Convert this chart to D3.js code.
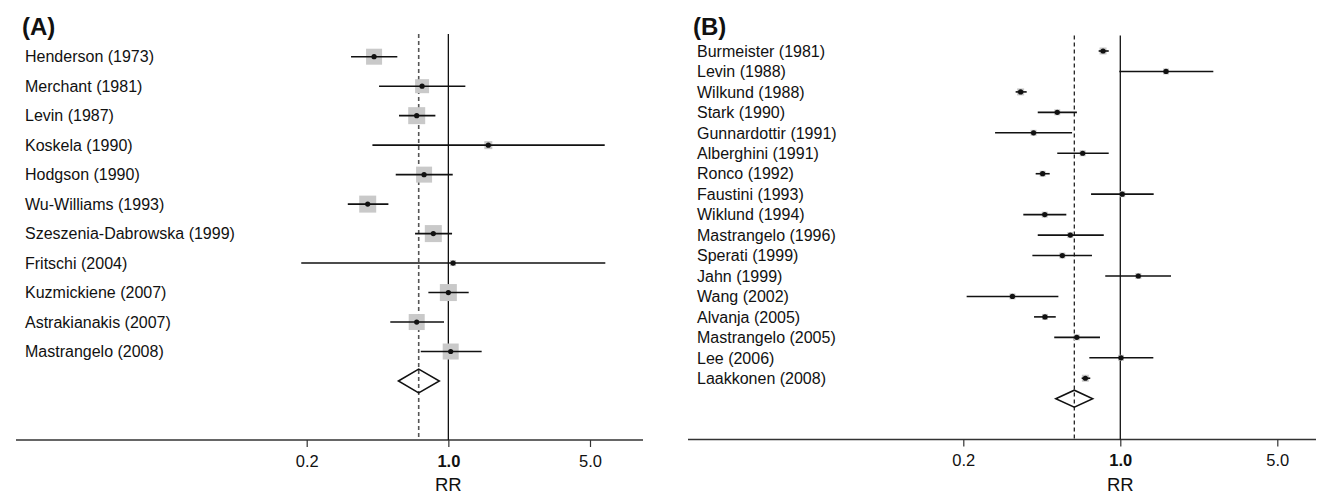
<!DOCTYPE html>
<html lang="en">
<head>
    <meta charset="UTF-8">
    <title>Forest plots</title>
    <style>
        body { margin: 0; background: #fff; }
        svg { display: block; }
        text { font-family: "Liberation Sans", Arial, sans-serif; fill: #111; }
    </style>
    <script src="https://d3js.org/d3.v7.min.js"></script>
</head>
<body>
<svg width="1318" height="495"></svg>
<script>
    // Panel A data
    const studiesA = ["Henderson (1973)", "Merchant (1981)", "Levin (1987)", "Koskela (1990)",
        "Hodgson (1990)", "Wu-Williams (1993)", "Szeszenia-Dabrowska (1999)", "Fritschi (2004)",
        "Kuzmickiene (2007)", "Astrakianakis (2007)", "Mastrangelo (2008)"];
    const rrA = [0.43, 0.742, 0.698, 1.575, 0.759, 0.40, 0.843, 1.055, 1.0, 0.698, 1.027];
    const loA = [0.331, 0.455, 0.571, 0.422, 0.55, 0.319, 0.685, 0.188, 0.797, 0.517, 0.731];
    const hiA = [0.56, 1.213, 0.863, 5.91, 1.051, 0.506, 1.043, 5.95, 1.26, 0.952, 1.46];
    const sizeA = [16, 14, 17, 8, 16, 17, 17, 6, 17, 16, 16];
    const pooledA = [0.714, 0.567, 0.903]; // est, lo, hi

    // Panel B data
    const studiesB = ["Burmeister (1981)", "Levin (1988)", "Wilkund (1988)", "Stark (1990)",
        "Gunnardottir (1991)", "Alberghini (1991)", "Ronco (1992)", "Faustini (1993)",
        "Wiklund (1994)", "Mastrangelo (1996)", "Sperati (1999)", "Jahn (1999)", "Wang (2002)",
        "Alvanja (2005)", "Mastrangelo (2005)", "Lee (2006)", "Laakkonen (2008)"];
    const rrB = [0.838, 1.598, 0.36, 0.524, 0.411, 0.68, 0.451, 1.02, 0.461, 0.599, 0.552, 1.203, 0.331, 0.462, 0.64, 1.007, 0.699];
    const loB = [0.801, 0.99, 0.342, 0.429, 0.277, 0.524, 0.42, 0.741, 0.37, 0.429, 0.406, 0.857, 0.207, 0.413, 0.508, 0.728, 0.673];
    const hiB = [0.888, 2.595, 0.383, 0.641, 0.61, 0.888, 0.485, 1.408, 0.575, 0.844, 0.748, 1.682, 0.53, 0.516, 0.812, 1.403, 0.735];
    const sizeB = [7, 6, 7, 6, 6, 6, 6, 6, 6, 6, 6, 6, 6, 6, 6, 6, 7];
    const pooledB = [0.624, 0.516, 0.754];

    const tickVals = [0.2, 1.0, 5.0];

    const svg = d3.select("svg");

    function drawPanel(p) {
        const g = svg.append("g");
        const n = p.studies.length;
        const x = d3.scaleLog().domain([0.2, 5]).range(p.xRange);
        const y = d3.scaleLinear().domain([0, n]).range(p.yRange);

        // title
        g.append("text").attr("x", p.titleX).attr("y", 35)
            .style("font-size", "24px").style("font-weight", "bold").text(p.title);

        // study names
        g.selectAll("text.study").data(p.studies).enter().append("text")
            .attr("class", "study")
            .attr("x", p.labelX).attr("y", (d, i) => y(i))
            .attr("dy", "0.36em")
            .style("font-size", p.labelSize + "px")
            .text(d => d);

        // axis line + ticks
        g.append("line").attr("x1", p.axisX[0]).attr("x2", p.axisX[1])
            .attr("y1", p.axisY).attr("y2", p.axisY)
            .style("stroke", "#333").style("stroke-width", 1.3);
        const ax = g.append("g").attr("transform", `translate(0,${p.axisY})`)
            .call(d3.axisBottom(x).tickValues(tickVals).tickFormat(d3.format(".1f")).tickSize(7).tickSizeOuter(0));
        ax.select(".domain").remove();
        ax.selectAll(".tick line").style("stroke", "#333").style("stroke-width", 1.2);
        ax.selectAll(".tick text").attr("y", 15)
            .style("font-size", "16.5px").style("font-family", "'Liberation Sans', Arial, sans-serif")
            .style("fill", "#111")
            .style("font-weight", d => d === 1 ? "bold" : "normal");
        g.append("text").attr("x", x(1)).attr("y", 491).attr("text-anchor", "middle")
            .style("font-size", "18.5px").text("RR");

        // reference lines
        g.append("line").attr("x1", x(1)).attr("x2", x(1))
            .attr("y1", p.refTop).attr("y2", p.axisY)
            .style("stroke", "#111").style("stroke-width", 1.3);
        g.append("line").attr("x1", x(p.pooled[0])).attr("x2", x(p.pooled[0]))
            .attr("y1", p.refTop).attr("y2", p.axisY)
            .style("stroke", p.dashColor).style("stroke-width", p.dashWidth)
            .style("stroke-dasharray", "4,3");

        const rows = p.studies.map((s, i) => ({ i, rr: p.rr[i], lo: p.lo[i], hi: p.hi[i], size: p.size[i] }));

        // weight squares
        g.selectAll("rect.w").data(rows).enter().append("rect")
            .attr("x", d => x(d.rr) - d.size / 2).attr("y", d => y(d.i) - d.size / 2)
            .attr("width", d => d.size).attr("height", d => d.size)
            .style("fill", "#c9c9c9");

        // CI lines
        g.selectAll("line.ci").data(rows).enter().append("line")
            .attr("x1", d => x(d.lo)).attr("x2", d => x(d.hi))
            .attr("y1", d => y(d.i)).attr("y2", d => y(d.i))
            .style("stroke", "#111").style("stroke-width", 1.6);

        // point estimates
        g.selectAll("circle").data(rows).enter().append("circle")
            .attr("cx", d => x(d.rr)).attr("cy", d => y(d.i)).attr("r", 2.6)
            .style("fill", "#111");

        // pooled diamond
        const cy = y(n), h = p.diamondH;
        const pts = [[x(p.pooled[1]), cy], [x(p.pooled[0]), cy - h], [x(p.pooled[2]), cy], [x(p.pooled[0]), cy + h]];
        g.append("polygon").attr("points", pts.map(q => q.join(",")).join(" "))
            .style("fill", "none").style("stroke", "#111").style("stroke-width", 1.5);
    }

    drawPanel({
        title: "(A)", titleX: 22, studies: studiesA, rr: rrA, lo: loA, hi: hiA, size: sizeA, pooled: pooledA,
        xRange: [306.7, 590], yRange: [56.7, 381], labelX: 25, labelSize: 16,
        axisX: [16, 643], axisY: 440, refTop: 34, dashColor: "#555", dashWidth: 1.6, diamondH: 12
    });
    drawPanel({
        title: "(B)", titleX: 693, studies: studiesB, rr: rrB, lo: loB, hi: hiB, size: sizeB, pooled: pooledB,
        xRange: [963.3, 1277.3], yRange: [51, 398.7], labelX: 697, labelSize: 16,
        axisX: [688, 1316], axisY: 439.5, refTop: 35.5, dashColor: "#111", dashWidth: 1.2, diamondH: 8.5
    });
</script>
</body>
</html>
